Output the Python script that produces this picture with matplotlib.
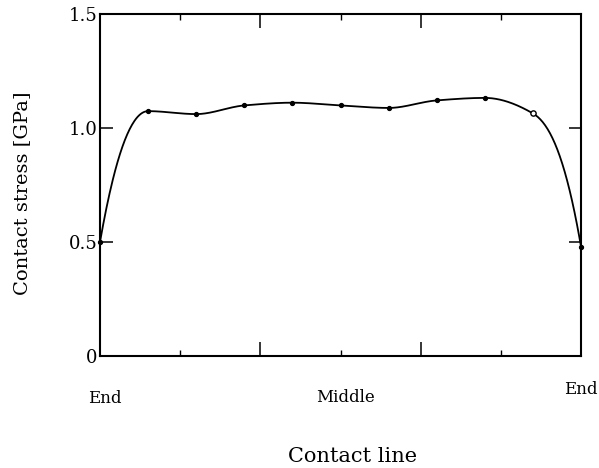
import numpy as np
import matplotlib
matplotlib.use("Agg")
import matplotlib.pyplot as plt

# ---- data ----
positions = [0, 1, 2, 3, 4, 5, 6, 7, 8, 9, 10]
stress = [0.50, 1.074, 1.061, 1.099, 1.111, 1.099, 1.088, 1.121, 1.132, 1.064, 0.48]
open_marker_index = [9]
y_ticks = [0, 0.5, 1.0, 1.5]
y_tick_labels = ["0", "0.5", "1.0", "1.5"]
x_labels = ["End", "Middle", "End"]


def hermite_curve(x, y, n=60):
    """Shape-preserving cubic Hermite (PCHIP-style) curve through the points."""
    x = np.asarray(x, float)
    y = np.asarray(y, float)
    h = np.diff(x)
    d = np.diff(y) / h
    m = np.zeros_like(y)
    for k in range(1, len(x) - 1):
        if d[k - 1] * d[k] <= 0:
            m[k] = 0.0
        else:
            w1 = 2 * h[k] + h[k - 1]
            w2 = h[k] + 2 * h[k - 1]
            m[k] = (w1 + w2) / (w1 / d[k - 1] + w2 / d[k])
    m[0] = 2.1 * d[0]
    m[-1] = 2.1 * d[-1]
    xs, ys = [], []
    for k in range(len(x) - 1):
        t = np.linspace(0, 1, n, endpoint=(k == len(x) - 2))
        h00 = 2 * t**3 - 3 * t**2 + 1
        h10 = t**3 - 2 * t**2 + t
        h01 = -2 * t**3 + 3 * t**2
        h11 = t**3 - t**2
        xs.append(x[k] + t * h[k])
        ys.append(h00 * y[k] + h10 * h[k] * m[k] + h01 * y[k + 1] + h11 * h[k] * m[k + 1])
    return np.concatenate(xs), np.concatenate(ys)


plt.rcParams["font.family"] = ["DejaVu Serif"]

fig = plt.figure(figsize=(5.99, 4.68), dpi=100)
ax = fig.add_axes([100 / 599, (468 - 356) / 468, 481 / 599, 342 / 468])

cx, cy = hermite_curve(positions, stress)
ax.plot(cx, cy, color="black", lw=1.3, solid_capstyle="round", zorder=3, clip_on=False)

filled = [i for i in range(len(positions)) if i not in open_marker_index]
ax.plot([positions[i] for i in filled], [stress[i] for i in filled], linestyle="none",
        marker="o", ms=2.8, color="black", zorder=4, clip_on=False)
ax.plot([positions[i] for i in open_marker_index], [stress[i] for i in open_marker_index],
        linestyle="none", marker="o", ms=3.8, mfc="white", mec="black", mew=1.0, zorder=4)

ax.set_xlim(positions[0], positions[-1])
ax.set_ylim(y_ticks[0], y_ticks[-1])

for s in ax.spines.values():
    s.set_linewidth(1.5)
    s.set_color("black")

span = positions[-1] - positions[0]
ax.set_xticks([positions[0] + span * k / 3 for k in (1, 2)])
ax.set_xticks([positions[0] + span * k / 6 for k in (1, 3, 5)], minor=True)
ax.tick_params(axis="x", which="major", direction="in", length=10, width=1.1,
               top=True, bottom=True, labelbottom=False)
ax.tick_params(axis="x", which="minor", direction="in", length=4, width=1.0,
               top=True, bottom=True)

ax.set_yticks(y_ticks)
ax.set_yticklabels(y_tick_labels)
ax.tick_params(axis="y", which="major", direction="in", length=9, width=1.1,
               left=True, right=True, labelsize=13, pad=2)

# x-axis position labels
ax.text(0.01, -0.125, x_labels[0], transform=ax.transAxes, ha="center", va="center", fontsize=12)
ax.text(0.511, -0.12, x_labels[1], transform=ax.transAxes, ha="center", va="center", fontsize=12)
ax.text(1.0, -0.098, x_labels[2], transform=ax.transAxes, ha="center", va="center", fontsize=12)

fig.text(353 / 599, 1 - 456 / 468, "Contact line", ha="center", va="center", fontsize=15)
fig.text(22 / 599, 1 - 193 / 468, "Contact stress [GPa]", ha="center", va="center",
         rotation=90, fontsize=14)

fig.savefig("out.png", dpi=100)
